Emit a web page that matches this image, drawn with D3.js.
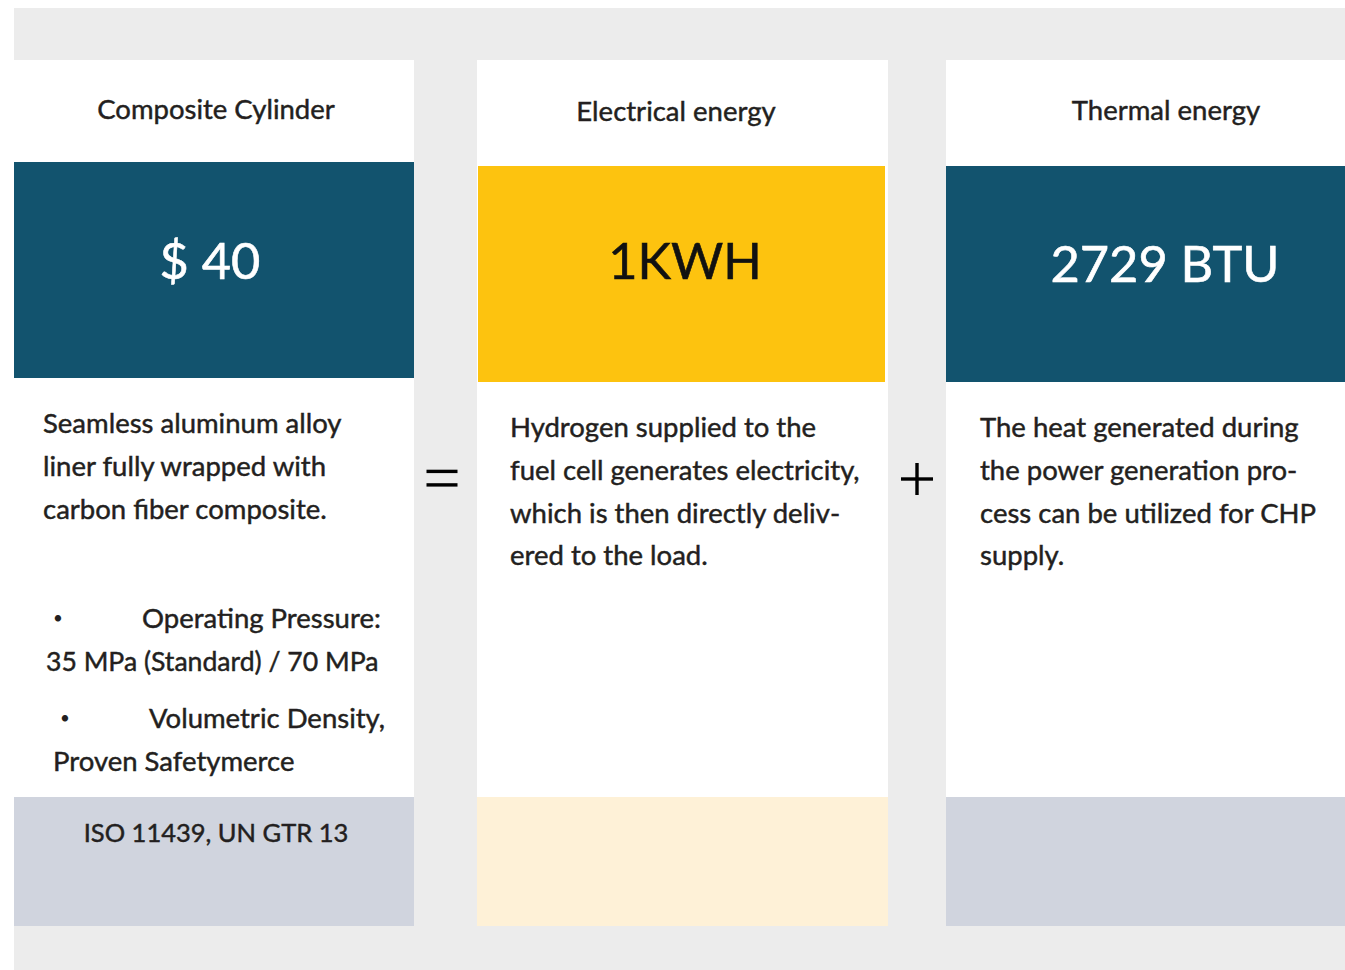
<!DOCTYPE html>
<html>
<head>
<meta charset="utf-8">
<script src="https://cdn.jsdelivr.net/npm/d3@7"></script>
<style>
  html, body { margin: 0; padding: 0; background: #ffffff; }
  svg { display: block; }
  text { font-family: Lato, "Open Sans", sans-serif; }
</style>
</head>
<body>
<div id="chart"></div>
<script>
// ---- data ----
const categories = ["Composite Cylinder", "Electrical energy", "Thermal energy"];
const values = ["$ 40", "1KWH", "2729 BTU"];
const descriptions = [
  ["Seamless aluminum alloy", "liner fully wrapped with", "carbon fiber composite."],
  ["Hydrogen supplied to the", "fuel cell generates electricity,", "which is then directly deliv-", "ered to the load."],
  ["The heat generated during", "the power generation pro-", "cess can be utilized for CHP", "supply."]
];
const bulletItems = [
  ["Operating Pressure:", "35 MPa (Standard) / 70 MPa"],
  ["Volumetric Density,", "Proven Safetymerce"]
];
const footers = ["ISO 11439, UN GTR 13", "", ""];
const operators = ["=", "+"];

// ---- layout ----
const W = 1345, H = 970;
const cardX = [14, 477, 946];
const cardW = [400, 411, 399];
const blockX = [14, 478, 946];
const blockW = [400, 407, 399];
const blockY = [162, 166, 166];
const blockFill = ["#12536e", "#fdc30f", "#12536e"];
const valueFill = ["#ffffff", "#111111", "#ffffff"];
const valueCx = [210, 685, 1165];
const valueBase = [279, 279, 282];
const titleCx = [216, 676, 1166];
const titleBase = [119, 121, 120];
const footFill = ["#d0d4de", "#fef1d7", "#d0d4de"];
const descX = [43, 510, 980];
const descBase = [433, 437, 437];
const lineGap = 42.8;
const textCol = "#231f20";
const fs = 27.5;
const heavy = 0.45;

const svg = d3.select("#chart").append("svg").attr("width", W).attr("height", H);

svg.append("rect").attr("x", 14).attr("y", 8).attr("width", W - 14).attr("height", H - 8).attr("fill", "#ececec");

const idx = d3.range(categories.length);
const cards = svg.selectAll("g.card").data(idx).join("g").attr("class", "card");

cards.append("rect")
  .attr("x", i => cardX[i]).attr("y", 60)
  .attr("width", i => cardW[i]).attr("height", 737)
  .attr("fill", "#ffffff");

cards.append("rect")
  .attr("x", i => blockX[i]).attr("y", i => blockY[i])
  .attr("width", i => blockW[i]).attr("height", 216)
  .attr("fill", i => blockFill[i]);

cards.append("rect")
  .attr("x", i => cardX[i]).attr("y", 797)
  .attr("width", i => cardW[i]).attr("height", 129)
  .attr("fill", i => footFill[i]);

function ink(sel, col) {
  return sel.attr("fill", col).attr("stroke", col).attr("stroke-width", heavy);
}

ink(cards.append("text")
  .attr("x", i => titleCx[i]).attr("y", i => titleBase[i])
  .attr("text-anchor", "middle")
  .attr("font-size", fs)
  .text(i => categories[i]), textCol);

cards.append("text")
  .attr("x", i => valueCx[i]).attr("y", i => valueBase[i])
  .attr("text-anchor", "middle")
  .attr("font-size", 50.5)
  .attr("fill", i => valueFill[i])
  .attr("stroke", i => valueFill[i])
  .attr("stroke-width", 0.6)
  .text(i => values[i]);

cards.each(function(i) {
  ink(d3.select(this).selectAll("text.desc").data(descriptions[i]).join("text")
    .attr("class", "desc")
    .attr("x", descX[i])
    .attr("y", (d, k) => descBase[i] + k * lineGap)
    .attr("font-size", fs)
    .text(d => d), textCol);
});

ink(cards.append("text")
  .attr("x", i => titleCx[i]).attr("y", 842)
  .attr("text-anchor", "middle")
  .attr("font-size", 25.5)
  .text(i => footers[i]), textCol);

// bullets in first card
const bulletDotX = [58, 65];
const bulletTextX = [142, 149];
const bulletLine2X = [46, 53];
const bulletBase = [628, 728];
const line2Size = [26.6, fs];
const bg = svg.append("g");
bulletItems.forEach((b, j) => {
  bg.append("text").attr("x", bulletDotX[j]).attr("y", bulletBase[j] - 4)
    .attr("text-anchor", "middle").attr("font-size", 17).attr("fill", textCol).text("•");
  ink(bg.append("text").attr("x", bulletTextX[j]).attr("y", bulletBase[j])
    .attr("font-size", fs).text(b[0]), textCol);
  ink(bg.append("text").attr("x", bulletLine2X[j]).attr("y", bulletBase[j] + 43)
    .attr("font-size", line2Size[j]).text(b[1]), textCol);
});

// operators
const opCx = [442, 917];
const opCy = [478, 479];
const og = svg.append("g");
// "=" sign
og.append("rect").attr("x", opCx[0] - 15.5).attr("y", opCy[0] - 8.3).attr("width", 31).attr("height", 3.4).attr("fill", "#000");
og.append("rect").attr("x", opCx[0] - 15.5).attr("y", opCy[0] + 5.2).attr("width", 31).attr("height", 3.4).attr("fill", "#000");
// "+" sign
og.append("rect").attr("x", opCx[1] - 16).attr("y", opCy[1] - 1.7).attr("width", 32).attr("height", 3.4).attr("fill", "#000");
og.append("rect").attr("x", opCx[1] - 1.7).attr("y", opCy[1] - 16).attr("width", 3.4).attr("height", 32).attr("fill", "#000");
og.selectAll("title").data(operators).join("title").text(d => d);
</script>
</body>
</html>
